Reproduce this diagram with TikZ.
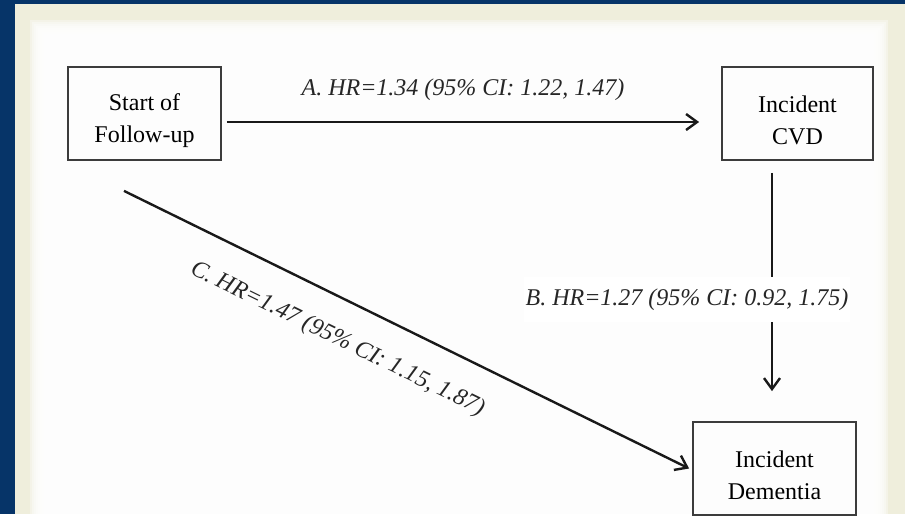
\documentclass[tikz,border=0pt]{standalone}
\usepackage{fontspec}
\setmainfont{Liberation Serif}
\usetikzlibrary{arrows.meta}
\definecolor{navy}{RGB}{6,52,104}
\definecolor{cream}{RGB}{239,238,220}
\definecolor{boxline}{RGB}{60,60,60}
% taller first line so the two text lines sit a little low in each box
\newcommand{\toplift}{\rule{0pt}{31pt}}

\begin{document}
\begin{tikzpicture}[x=1pt,y=-1pt,
  box/.style={draw=boxline, line width=1.8pt, minimum height=93pt, align=center,
    inner sep=0pt, font=\fontsize{24}{32}\selectfont},
  arr/.style={line width=2.4pt, draw=black!90,
    -{Straight Barb[length=11pt, width=16pt]}},
  lab/.style={font=\fontsize{24}{28}\selectfont\itshape, text=black!85, inner sep=0pt}]

% frame and panel
\fill[navy] (0,0) rectangle (905,514);
\fill[cream] (15,4) rectangle (905,514);
\foreach \i in {0,...,9}
  \fill[white, opacity=0.35] (30+2*\i,20+2*\i) rectangle (888-2*\i,520);
\useasboundingbox (0,0) rectangle (905,514);

% boxes
\node[box, minimum width=153pt] (start) at (144.5,113.5) {\toplift Start of\\Follow-up};
\node[box, minimum width=151pt] (cvd) at (797.5,113.5) {\toplift Incident\\CVD};
\node[box, minimum width=163pt] (dem) at (774.5,468.5) {\toplift Incident\\Dementia};

% paths
\draw[arr] ([xshift=5pt,yshift=-8.5pt]start.east) --
  node[lab, above=20pt] {A. HR=1.34 (95\% CI: 1.22, 1.47)}
  ([xshift=-22pt,yshift=-8.5pt]cvd.west);

\draw[arr] ([xshift=-25.5pt,yshift=-12pt]cvd.south) --
  node[lab, pos=0.58, xshift=-85pt, fill=white, inner xsep=2pt, inner ysep=12pt]
    {B. HR=1.27 (95\% CI: 0.92, 1.75)}
  ([xshift=-2.5pt,yshift=30pt]dem.north);

\draw[arr] ([xshift=-20.5pt,yshift=-30pt]start.south) --
  node[lab, pos=0.408, rotate=-26.1, yshift=-39pt] {C. HR=1.47 (95\% CI: 1.15, 1.87)}
  ([xshift=-3pt]dem.west);
\end{tikzpicture}
\end{document}
